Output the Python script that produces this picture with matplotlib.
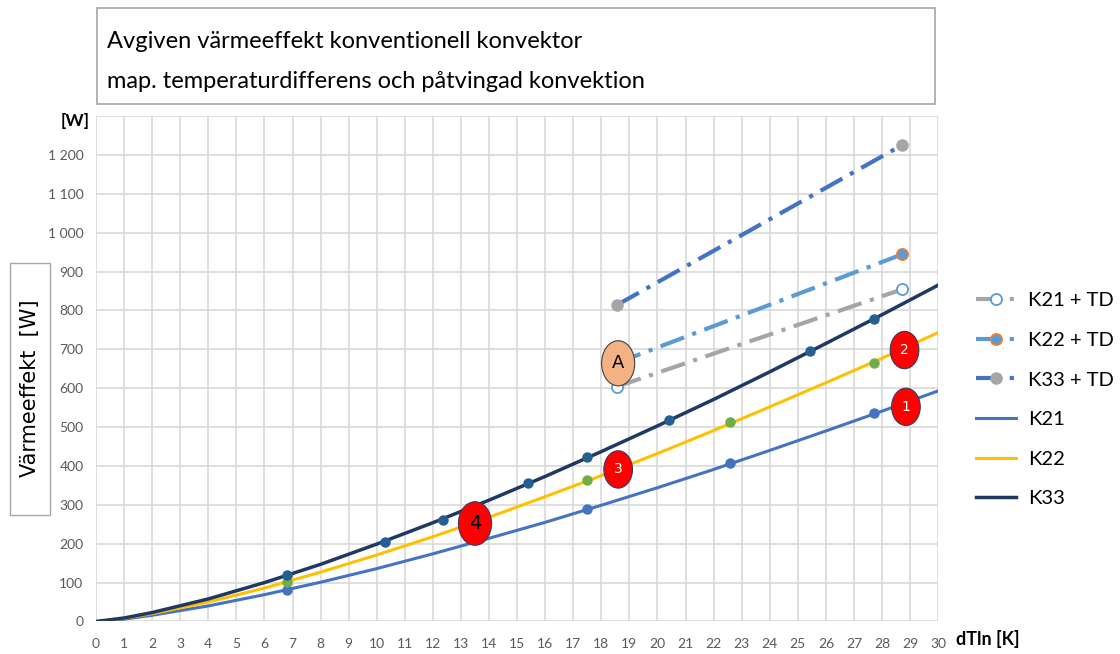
import matplotlib
matplotlib.use("Agg")
import matplotlib.pyplot as plt
from matplotlib.lines import Line2D
from matplotlib.patches import Ellipse, Rectangle
from matplotlib.ticker import FuncFormatter

# smooth curves (dTln [K] -> W)
dt_curve = [0, 1, 2, 4, 6, 8, 10, 12, 14, 16, 18, 20, 22, 24, 26, 28, 30]
k21_curve = [0, 6, 16, 40, 69, 101, 136, 174, 214, 255, 299, 344, 391, 440, 490, 541, 593]
k22_curve = [0, 8, 20, 50, 86, 127, 171, 218, 268, 321, 375, 432, 491, 552, 614, 677, 743]
k33_curve = [0, 9, 23, 58, 100, 147, 199, 254, 312, 373, 437, 503, 571, 642, 715, 789, 865]

# measured points
k21_pts_x = [6.8, 17.5, 22.6, 27.7]
k21_pts_y = [81, 288, 408, 535]
k22_pts_x = [6.8, 17.5, 22.6, 27.7]
k22_pts_y = [102, 364, 512, 666]
k33_pts_x = [6.8, 10.3, 12.35, 15.4, 17.5, 20.4, 25.45, 27.7]
k33_pts_y = [120, 205, 261, 355, 424, 518, 695, 777]

# forced convection (TD)
td_x = [18.56, 28.71]
k21_td = [604, 854]
k22_td = [665, 944]
k33_td = [814, 1225]

# numbered callouts: label, x, y
callouts = [("1", 28.85, 552), ("2", 28.8, 698), ("3", 18.6, 391), ("4", 13.5, 252)]

fig = plt.figure(figsize=(11.2, 6.54), dpi=100)
ax = fig.add_axes([0.0857, 0.0497, 0.752, 0.773])

dash = (0, (6, 2.1, 1, 2.1))
ax.plot(dt_curve, k21_curve, color="#4472C4", lw=2.2, zorder=3)
ax.plot(dt_curve, k22_curve, color="#FFC000", lw=2.2, zorder=3)
ax.plot(dt_curve, k33_curve, color="#1F3864", lw=2.5, zorder=4)

ax.plot(k21_pts_x, k21_pts_y, "o", color="#4472C4", ms=6.5, zorder=5)
ax.plot(k22_pts_x, k22_pts_y, "o", color="#70AD47", ms=6.5, zorder=5)
ax.plot(k33_pts_x, k33_pts_y, "o", color="#255E91", ms=6.5, zorder=5)

ax.plot(td_x, k21_td, color="#A5A5A5", lw=3, ls=dash, marker="o", ms=8,
        mfc="white", mec="#5B9BD5", mew=1.3, zorder=4)
ax.plot(td_x, k22_td, color="#5B9BD5", lw=3, ls=dash, marker="o", ms=8,
        mfc="#5B9BD5", mec="#ED7D31", mew=1.3, zorder=4)
ax.plot(td_x, k33_td, color="#4472C4", lw=3, ls=dash, marker="o", ms=8,
        mfc="#A5A5A5", mec="#A5A5A5", zorder=4)

for lab, cx, cy in callouts:
    big = lab == "4"
    w, h = (1.18, 112) if big else (1.02, 96)
    ax.add_patch(Ellipse((cx, cy), w, h, facecolor="#FF0000", edgecolor="#3A3A5A",
                         lw=0.8, zorder=6))
    ax.text(cx, cy, lab, ha="center", va="center", zorder=7,
            color="black" if big else "white", fontsize=14 if big else 10,
            family="DejaVu Sans")

ax.add_patch(Ellipse((18.6, 664), 1.18, 116, facecolor="#F4B183", edgecolor="#404040",
                     lw=0.8, zorder=6))
ax.text(18.6, 664, "A", ha="center", va="center", fontsize=13, zorder=7,
        family="DejaVu Sans")

ax.set_xlim(0, 30)
ax.set_ylim(0, 1300)
ax.set_xticks(range(0, 31))
ax.set_yticks(range(0, 1301, 100))
ax.yaxis.set_major_formatter(FuncFormatter(
    lambda v, p: "" if v > 1250 else f"{int(v):,}".replace(",", " ")))
ax.grid(True, color="#D9D9D9", lw=1.2, zorder=0)
ax.set_axisbelow(True)
for s in ax.spines.values():
    s.set_visible(False)
ax.tick_params(length=0, labelcolor="#595959", labelsize=10)
ax.tick_params(axis="x", pad=12)
ax.tick_params(axis="y", pad=9)
for t in ax.get_xticklabels() + ax.get_yticklabels():
    t.set_family("Lato")

# title box
fig.add_artist(Rectangle((0.0866, 0.841), 0.748, 0.147, transform=fig.transFigure,
                         facecolor="white", edgecolor="#A6A6A6", lw=1.2))
fig.text(0.0955, 1 - 42 / 654, "Avgiven värmeeffekt konventionell konvektor",
         va="center", fontsize=17, family="Lato")
fig.text(0.0955, 1 - 82 / 654, "map. temperaturdifferens och påtvingad konvektion",
         va="center", fontsize=17, family="Lato")

# y label box
fig.add_artist(Rectangle((0.0089, 0.2125), 0.0357, 0.385, transform=fig.transFigure,
                         facecolor="white", edgecolor="#A6A6A6", lw=1.0))
fig.text(30 / 1120, 1 - 388 / 654, "Värmeeffekt  [W]", rotation=90, ha="center",
         va="center", fontsize=15, family="DejaVu Sans")

fig.text(75 / 1120, 1 - 121 / 654, "[W]", ha="center", va="center", fontsize=12.5,
         fontweight="bold", family="Lato")
fig.text(956 / 1120, 1 - 639 / 654, "dTln [K]", ha="left", va="center", fontsize=13,
         fontweight="bold", family="Lato")

handles = [
    Line2D([0], [0], color="#A5A5A5", lw=3, ls=dash, marker="o", ms=8,
           mfc="white", mec="#5B9BD5", mew=1.3),
    Line2D([0], [0], color="#5B9BD5", lw=3, ls=dash, marker="o", ms=8,
           mfc="#5B9BD5", mec="#ED7D31", mew=1.3),
    Line2D([0], [0], color="#4472C4", lw=3, ls=dash, marker="o", ms=8,
           mfc="#A5A5A5", mec="#A5A5A5"),
    Line2D([0], [0], color="#4472C4", lw=2.2),
    Line2D([0], [0], color="#FFC000", lw=2.2),
    Line2D([0], [0], color="#1F3864", lw=2.5),
]
labels = ["K21 + TD", "K22 + TD", "K33 + TD", "K21", "K22", "K33"]
leg = fig.legend(handles, labels, loc="upper left", bbox_to_anchor=(958 / 1120, 1 - 274 / 654),
                 frameon=False, fontsize=14.5, labelspacing=1.12, handlelength=2.0,
                 handletextpad=0.6, numpoints=1)
for t in leg.get_texts():
    t.set_family("Lato")

fig.savefig("out.png", dpi=100)
